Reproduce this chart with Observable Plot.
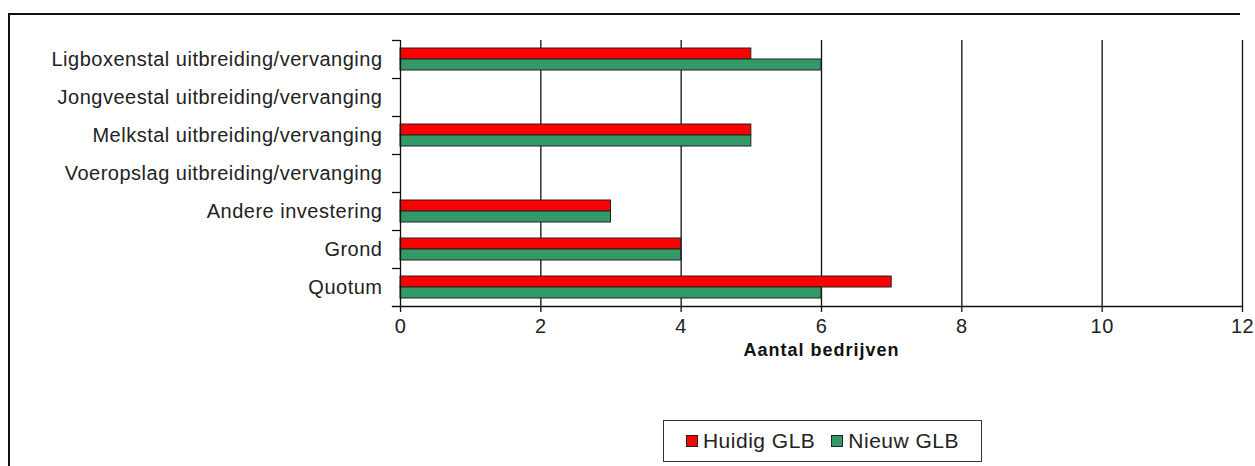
<!DOCTYPE html>
<html>
<head>
<meta charset="utf-8">
<script src="https://cdn.jsdelivr.net/npm/d3@7"></script>
<script src="https://cdn.jsdelivr.net/npm/@observablehq/plot@0.6"></script>
<style>
  html, body { margin: 0; padding: 0; background: #fff; overflow: hidden; }
  #wrap { position: relative; width: 1255px; height: 466px; overflow: hidden; background: #fff;
          font-family: "Liberation Sans", Arial, sans-serif; color: #222; }
  #bTop { position: absolute; left: 8px; top: 13px; width: 1232px; height: 2px; background: #111; }
  #bLeft { position: absolute; left: 8px; top: 13px; width: 2px; height: 453px; background: #111; }
  #chart { position: absolute; left: 0; top: 0; }
  #legend { position: absolute; left: 663px; top: 420px; width: 317px; height: 40px;
            border: 1.5px solid #333; display: flex; align-items: center; justify-content: center;
            gap: 16px; font-size: 21px; letter-spacing: 0.5px; }
  #legend .item { display: flex; align-items: center; gap: 5px; }
  #legend .sw { width: 10px; height: 10px; border: 1.5px solid #222; display: inline-block; }
</style>
</head>
<body>
<div id="wrap">
  <div id="bTop"></div>
  <div id="bLeft"></div>
  <div id="chart"></div>
  <div id="legend"></div>
</div>
<script>
const categories = [
  "Ligboxenstal uitbreiding/vervanging",
  "Jongveestal uitbreiding/vervanging",
  "Melkstal uitbreiding/vervanging",
  "Voeropslag uitbreiding/vervanging",
  "Andere investering",
  "Grond",
  "Quotum"
];
const seriesNames = ["Huidig GLB", "Nieuw GLB"];
const huidig = [5, 0, 5, 0, 3, 4, 7];
const nieuw  = [6, 0, 5, 0, 3, 4, 6];
const seriesColors = ["#ff0000", "#339966"];
const xTicks = [0, 2, 4, 6, 8, 10, 12];
const axisTitle = "Aantal bedrijven";

const rowsH = categories.map((c, i) => ({category: c, series: seriesNames[0], value: huidig[i]}));
const rowsN = categories.map((c, i) => ({category: c, series: seriesNames[1], value: nieuw[i]}));

const chart = Plot.plot({
  width: 1255,
  height: 370,
  marginTop: 40,
  marginBottom: 64,
  marginLeft: 400,
  marginRight: 13,
  style: {fontFamily: "'Liberation Sans', Arial, sans-serif", fontSize: "20px", color: "#222", background: "transparent", letterSpacing: "0.5px"},
  x: {domain: [0, 12], ticks: xTicks},
  y: {domain: categories, padding: 0},
  color: {domain: seriesNames, range: seriesColors},
  marks: [
    Plot.gridX({ticks: xTicks.filter(d => d > 0), stroke: "#111", strokeOpacity: 1, strokeWidth: 1.3}),
    Plot.barX(rowsH.filter(d => d.value > 0), {x: "value", y: "category", fill: "series", stroke: "#222", strokeWidth: 1, insetTop: 8, insetBottom: 19}),
    Plot.barX(rowsN.filter(d => d.value > 0), {x: "value", y: "category", fill: "series", stroke: "#222", strokeWidth: 1, insetTop: 19, insetBottom: 8}),
    Plot.ruleX([0], {stroke: "#111", strokeWidth: 1.3}),
    Plot.frame({anchor: "bottom", stroke: "#111", strokeWidth: 1.3, insetLeft: -8}),
    Plot.axisY({tickSize: 0, tickPadding: 18, label: null, fill: "#222"}),
    Plot.axisY({text: null, tickSize: 8, dy: -19, stroke: "#111", strokeWidth: 1.3, label: null}),
    Plot.axisX({ticks: xTicks, tickSize: 6, tickPadding: 6, label: null, stroke: "#111", strokeWidth: 1.3, fill: "#222"}),
    Plot.text([axisTitle], {frameAnchor: "bottom", dy: 49, fontWeight: "bold", fontSize: 18, fill: "#111"})
  ]
});
document.getElementById("chart").appendChild(chart);
chart.querySelectorAll("text").forEach(t => { if (t.textContent === axisTitle) t.style.letterSpacing = "1px"; });

const legend = document.getElementById("legend");
seriesNames.forEach((name, i) => {
  const item = document.createElement("span");
  item.className = "item";
  const sw = document.createElement("span");
  sw.className = "sw";
  sw.style.background = seriesColors[i];
  const t = document.createElement("span");
  t.textContent = name;
  item.appendChild(sw);
  item.appendChild(t);
  legend.appendChild(item);
});
</script>
</body>
</html>
